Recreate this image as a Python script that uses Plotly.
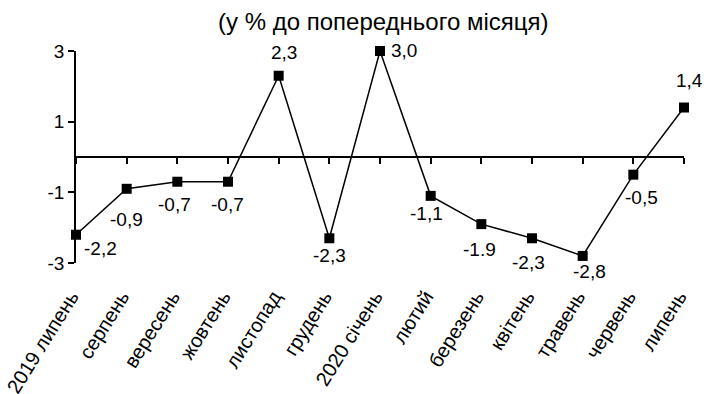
import plotly.graph_objects as go

# monthly change, % to previous month
months = ['2019 липень', 'серпень', 'вересень', 'жовтень', 'листопад', 'грудень',
          '2020 січень', 'лютий', 'березень', 'квітень', 'травень', 'червень', 'липень']
values = [-2.2, -0.9, -0.7, -0.7, 2.3, -2.3, 3.0, -1.1, -1.9, -2.3, -2.8, -0.5, 1.4]
value_labels = ['-2,2', '-0,9', '-0,7', '-0,7', '2,3', '-2,3', '3,0',
                '-1,1', '-1.9', '-2,3', '-2,8', '-0,5', '1,4']

# pixel offsets of each value label from its point (style only)
label_dx = [24, 0, -3, -1, 5, 0, 24, -4, -2, -4, 7, 8, 5]
label_dy = [-14, -31, -23, -23, 23, -17, 1, -18, -25, -24, -16, -23, 27]

font = 'Liberation Sans'

fig = go.Figure()

fig.add_trace(go.Scatter(
    x=months, y=values,
    mode='lines+markers',
    line=dict(color='black', width=1.5),
    marker=dict(symbol='square', size=10, color='black'),
    cliponaxis=False, showlegend=False,
))
# invisible copy so the zero-line axis gets the same categories
fig.add_trace(go.Scatter(x=months, y=values, xaxis='x2', mode='none',
                         showlegend=False, hoverinfo='skip'))

annotations = [
    dict(x=m, y=v, text=t, xref='x', yref='y', showarrow=False,
         xanchor='center', yanchor='middle', xshift=dx, yshift=dy,
         font=dict(family=font, size=19, color='black'))
    for m, v, t, dx, dy in zip(months, values, value_labels, label_dx, label_dy)
]
annotations += [
    # title is mostly cut off by the top edge in the original
    dict(text='<b>Індекси цін виробників промислової продукції</b>',
         xref='paper', yref='paper', x=0.467, y=1.235, yanchor='bottom',
         showarrow=False, font=dict(family=font, size=26, color='black')),
    dict(text='(у % до попереднього місяця)',
         xref='paper', yref='paper', x=0.505, y=1.137, yanchor='middle',
         showarrow=False, font=dict(family=font, size=24, color='black')),
]

fig.update_layout(
    width=704, height=394,
    margin=dict(l=76, r=20, t=51, b=131),
    paper_bgcolor='white', plot_bgcolor='white',
    xaxis=dict(
        type='category', range=[0, 12], showline=False, showgrid=False,
        zeroline=False, ticks='', tickangle=-58, automargin=False,
        ticklabelstandoff=17, ticklabelshift=-5,
        tickfont=dict(family=font, size=20, color='black'),
    ),
    xaxis2=dict(
        type='category', range=[0, 12], overlaying='x', anchor='free', position=0.5,
        showline=True, linecolor='black', linewidth=1.5, ticks='outside',
        ticklen=6, tickcolor='black', tickwidth=1.5, showticklabels=False,
        showgrid=False, zeroline=False, automargin=False,
    ),
    yaxis=dict(
        range=[-3, 3], tickvals=[-3, -1, 1, 3], ticktext=['-3', '-1', '1', '3'],
        showline=True, linecolor='black', linewidth=1.5, ticks='outside',
        ticklen=6, tickcolor='black', tickwidth=1.5, showgrid=False, zeroline=False,
        automargin=False, tickfont=dict(family=font, size=19, color='black'),
    ),
    annotations=annotations,
)

# drop the default 8px page margin so the figure fills the window
fig.write_html('out.html', config={'displayModeBar': False},
               post_script="document.body.style.margin='0';")
